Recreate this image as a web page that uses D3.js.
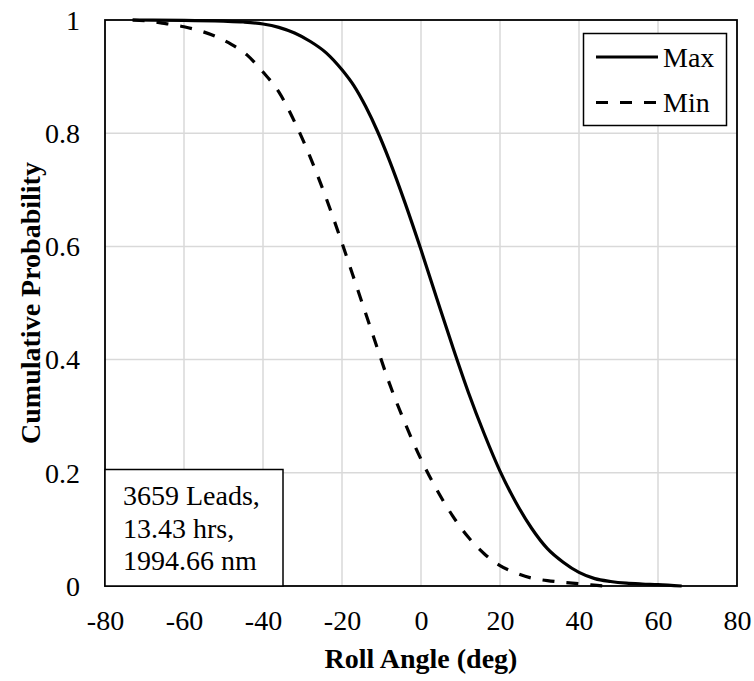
<!DOCTYPE html>
<html>
<head>
<meta charset="utf-8">
<script src="https://cdn.jsdelivr.net/npm/d3@7"></script>
<style>
  html, body { margin: 0; padding: 0; background: #fff; }
  svg { display: block; }
  svg text { font-family: "Liberation Serif", "Times New Roman", serif; fill: #000; }
</style>
</head>
<body>
<svg id="chart" width="754" height="681"></svg>
<script>
// Roll angle (deg) and cumulative probability for the two series
const maxAngle = [-73, -60, -50, -45, -40, -36, -32, -28, -24, -20, -17, -14, -11, -8, -4, 0, 4, 8, 12, 16, 20, 24, 28, 32, 36, 40, 44, 48, 52, 56, 60, 66];
const maxProb  = [1.0, 0.9995, 0.998, 0.9965, 0.993, 0.987, 0.977, 0.962, 0.942, 0.912, 0.884, 0.847, 0.803, 0.752, 0.676, 0.594, 0.508, 0.423, 0.342, 0.269, 0.203, 0.148, 0.102, 0.066, 0.042, 0.024, 0.013, 0.008, 0.005, 0.0035, 0.0025, 0.0];

const minAngle = [-73, -69, -65, -60, -56, -52, -48, -44, -40, -36, -32, -28, -24, -20, -16, -12, -8, -4, 0, 4, 8, 12, 16, 20, 24, 28, 32, 36, 40, 43, 46];
const minProb  = [1.0, 0.998, 0.994, 0.988, 0.981, 0.971, 0.957, 0.938, 0.908, 0.873, 0.820, 0.757, 0.685, 0.606, 0.523, 0.440, 0.358, 0.287, 0.224, 0.170, 0.124, 0.086, 0.057, 0.036, 0.023, 0.014, 0.0095, 0.0065, 0.004, 0.002, 0.0];

const xTicks = [-80, -60, -40, -20, 0, 20, 40, 60, 80];
const yTicks = [0, 0.2, 0.4, 0.6, 0.8, 1];
const yTickLabels = ["0", "0.2", "0.4", "0.6", "0.8", "1"];

const seriesNames = ["Max", "Min"];
const noteLines = ["3659 Leads,", "13.43 hrs,", "1994.66 nm"];

const plot = { left: 105, right: 737, top: 20, bottom: 586 };
const serif = "Liberation Serif";
const fontSize = 28;

const svg = d3.select("#chart");

const x = d3.scaleLinear().domain([-80, 80]).range([plot.left, plot.right]);
const y = d3.scaleLinear().domain([0, 1]).range([plot.bottom, plot.top]);

// gridlines
const grid = svg.append("g").attr("stroke", "#d9d9d9").attr("stroke-width", 1.5);
grid.selectAll("line.v").data(xTicks.slice(1, -1)).join("line")
  .attr("x1", d => x(d)).attr("x2", d => x(d))
  .attr("y1", plot.top).attr("y2", plot.bottom);
grid.selectAll("line.h").data(yTicks.slice(1, -1)).join("line")
  .attr("x1", plot.left).attr("x2", plot.right)
  .attr("y1", d => y(d)).attr("y2", d => y(d));

// axes (tick labels only, hyphen-minus for negatives)
const xAxis = d3.axisBottom(x).tickValues(xTicks).tickSize(0).tickPadding(0).tickFormat(d => String(d));
const gx = svg.append("g").attr("transform", `translate(0,${plot.bottom})`).call(xAxis);
gx.attr("font-family", serif).attr("font-size", fontSize);
gx.select(".domain").remove();
gx.selectAll("text").attr("font-family", serif).attr("font-size", fontSize)
  .attr("fill", "#000").attr("dy", null).attr("y", 44);

const yAxis = d3.axisLeft(y).tickValues(yTicks).tickSize(0).tickPadding(0)
  .tickFormat((d, i) => yTickLabels[i]);
const gy = svg.append("g").attr("transform", `translate(80,0)`).call(yAxis);
gy.attr("font-family", serif).attr("font-size", fontSize);
gy.select(".domain").remove();
gy.selectAll("text").attr("font-family", serif).attr("font-size", fontSize)
  .attr("fill", "#000").attr("dy", "0.33em").attr("x", 0);

// series lines
const line = d3.line().x(d => x(d[0])).y(d => y(d[1])).curve(d3.curveMonotoneX);
const maxData = maxAngle.map((a, i) => [a, maxProb[i]]);
const minData = minAngle.map((a, i) => [a, minProb[i]]);

svg.append("path").datum(minData).attr("d", line)
  .attr("fill", "none").attr("stroke", "#000").attr("stroke-width", 3.2)
  .attr("stroke-dasharray", "12,12");
svg.append("path").datum(maxData).attr("d", line)
  .attr("fill", "none").attr("stroke", "#000").attr("stroke-width", 3.2);

// plot frame
svg.append("rect")
  .attr("x", plot.left).attr("y", plot.top)
  .attr("width", plot.right - plot.left).attr("height", plot.bottom - plot.top)
  .attr("fill", "none").attr("stroke", "#000").attr("stroke-width", 1.8);

// legend
const legend = svg.append("g");
legend.append("rect").attr("x", 583.5).attr("y", 33.5).attr("width", 143).attr("height", 92)
  .attr("fill", "#fff").attr("stroke", "#000").attr("stroke-width", 1.5);
const legendRows = legend.selectAll("g.row").data(seriesNames).join("g")
  .attr("transform", (d, i) => `translate(0,${i === 0 ? 57 : 102.5})`);
legendRows.append("line").attr("x1", 596).attr("x2", 658).attr("y1", 0).attr("y2", 0)
  .attr("stroke", "#000").attr("stroke-width", 3.2)
  .attr("stroke-dasharray", (d, i) => i === 0 ? null : "12,12");
legendRows.append("text").attr("x", 663).attr("y", 9.5)
  .attr("font-family", serif).attr("font-size", fontSize).text(d => d);

// annotation box
const note = svg.append("g");
note.append("rect").attr("x", plot.left).attr("y", 469.5).attr("width", 178).attr("height", plot.bottom - 469.5)
  .attr("fill", "#fff").attr("stroke", "#000").attr("stroke-width", 1.5);
note.selectAll("text").data(noteLines).join("text")
  .attr("x", 123).attr("y", (d, i) => 505 + i * 32.5)
  .attr("font-family", serif).attr("font-size", fontSize).text(d => d);

// axis titles
svg.append("text").attr("x", (plot.left + plot.right) / 2).attr("y", 668)
  .attr("text-anchor", "middle").attr("font-family", serif).attr("font-size", fontSize).attr("font-weight", "bold")
  .text("Roll Angle (deg)");
svg.append("text").attr("transform", `translate(40,${(plot.top + plot.bottom) / 2}) rotate(-90)`)
  .attr("text-anchor", "middle").attr("font-family", serif).attr("font-size", fontSize).attr("font-weight", "bold")
  .text("Cumulative Probability");
</script>
</body>
</html>
